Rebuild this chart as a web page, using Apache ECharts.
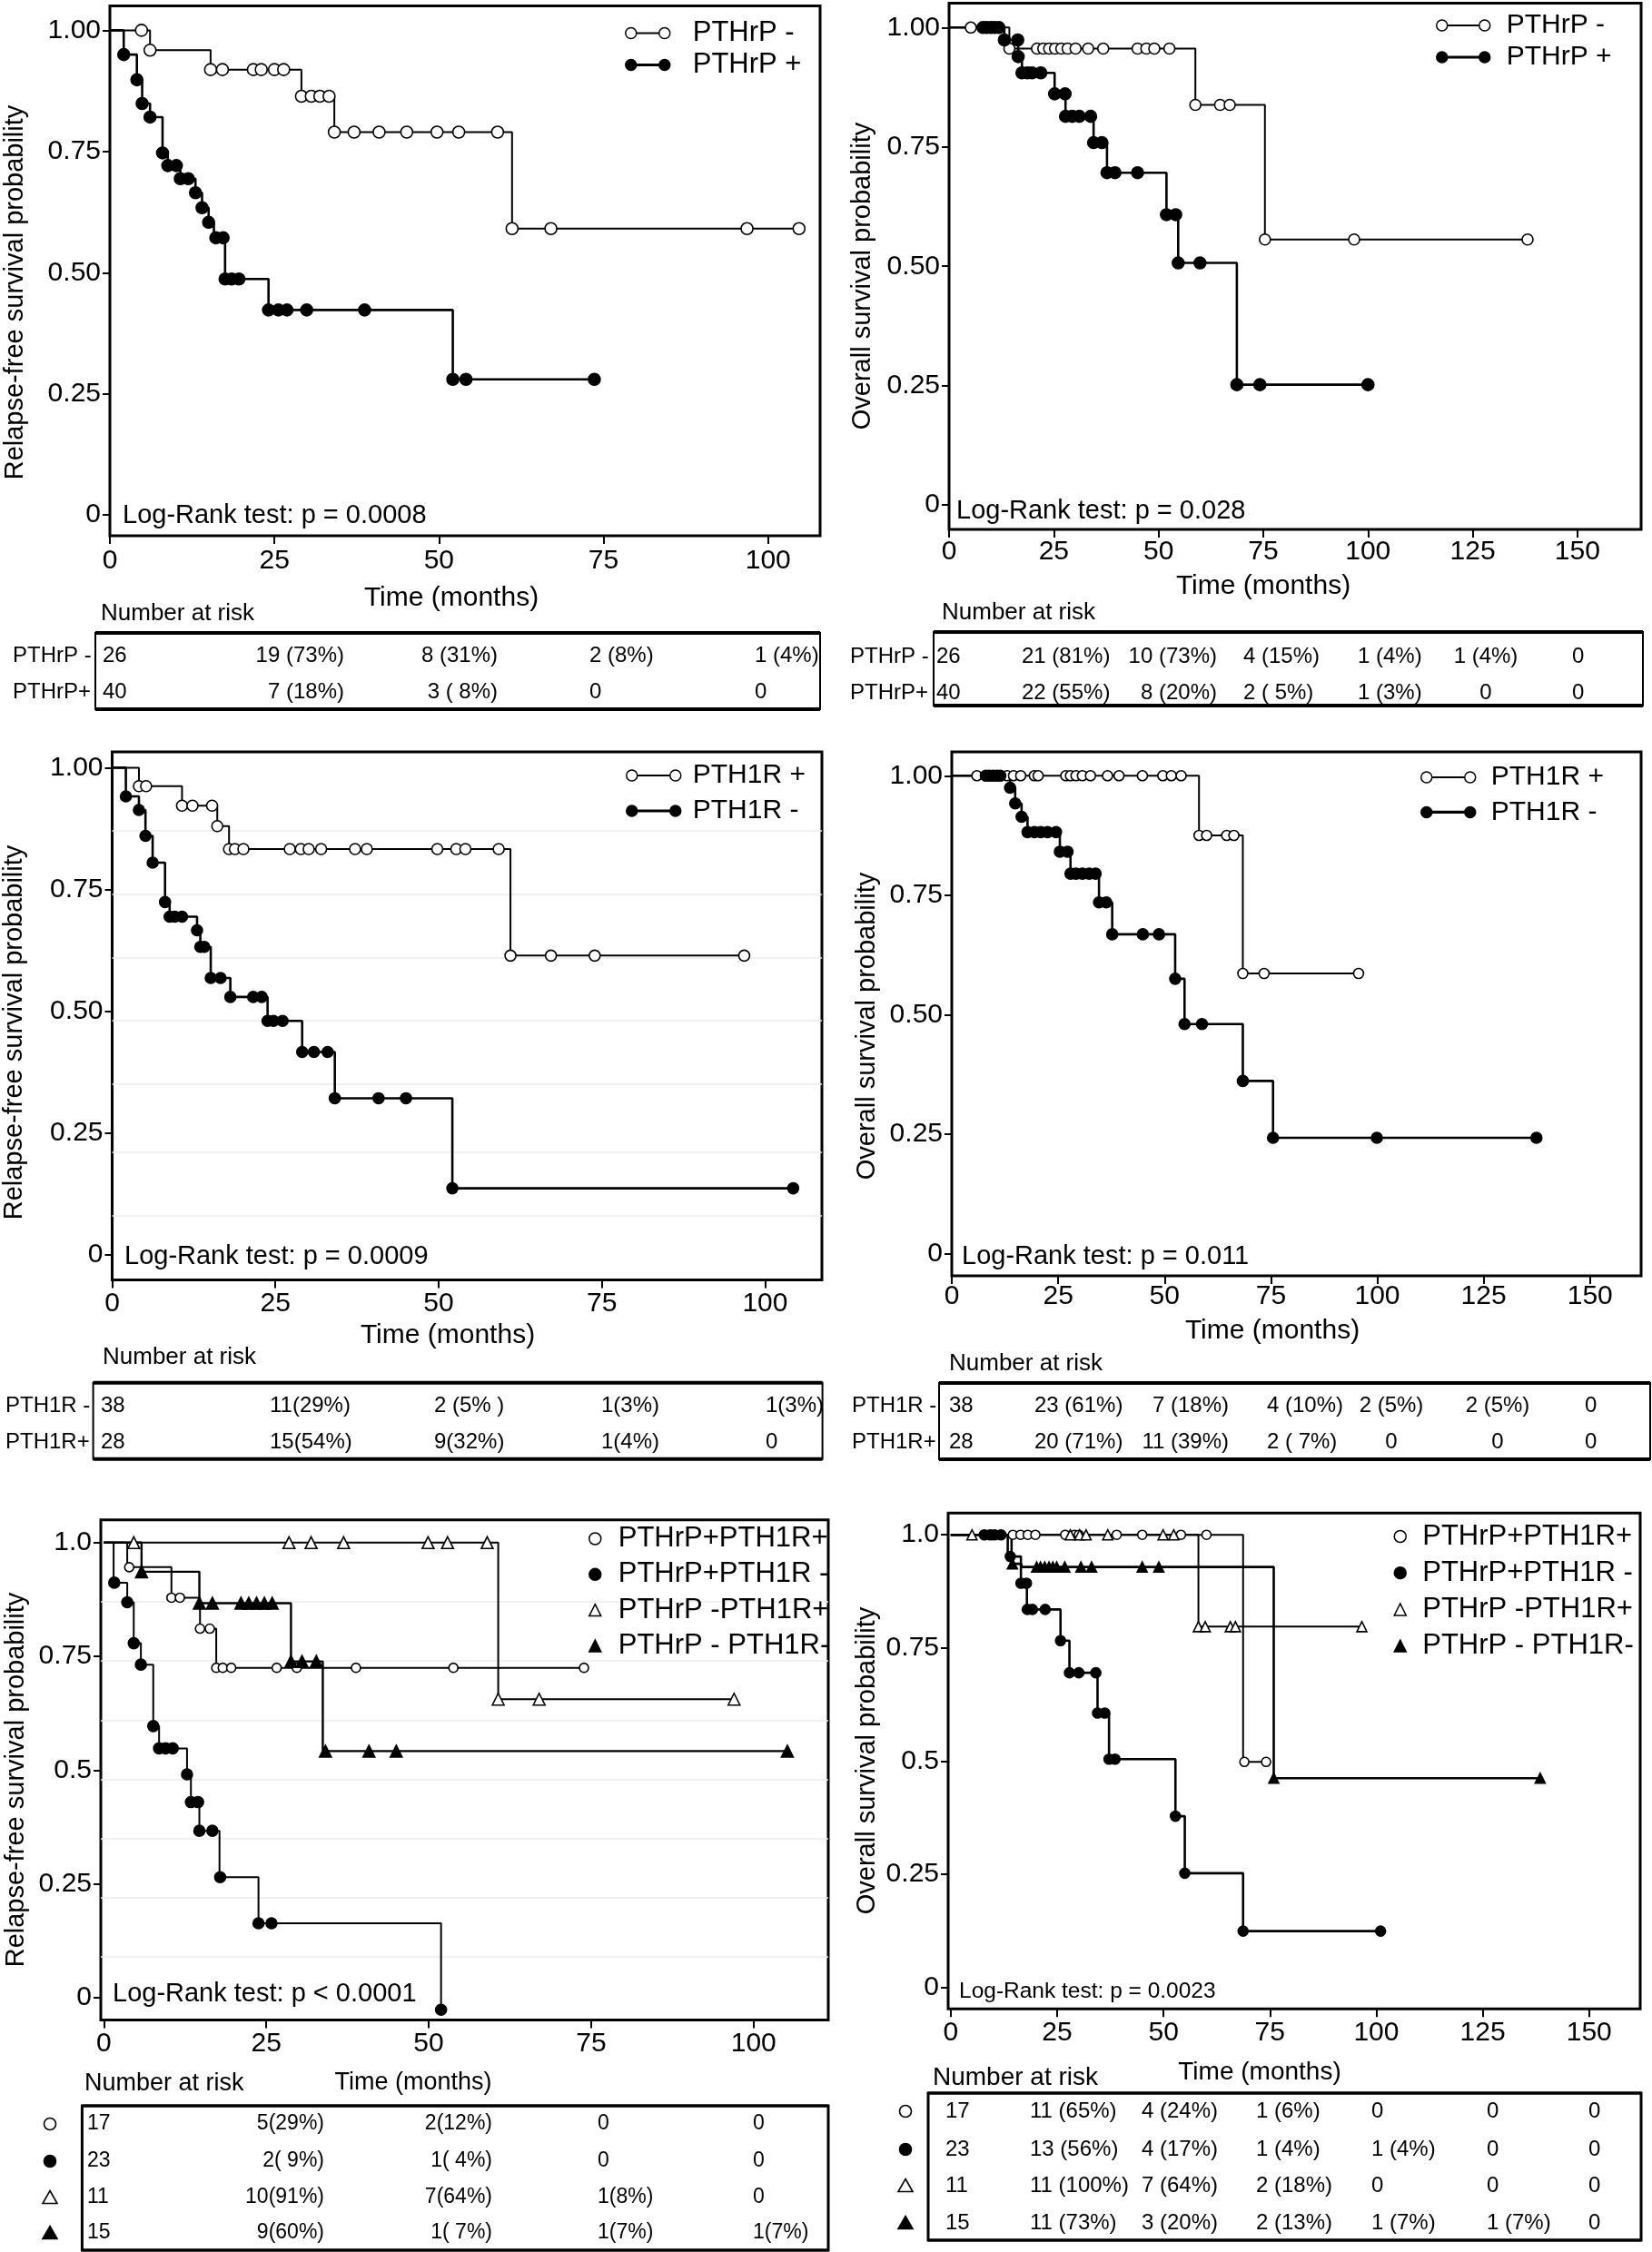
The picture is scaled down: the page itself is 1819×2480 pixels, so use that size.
<!DOCTYPE html>
<html><head><meta charset="utf-8">
<script src="https://cdn.jsdelivr.net/npm/echarts@6/dist/echarts.min.js"></script>
<style>html,body{margin:0;padding:0;background:#fff}#c{width:1819px;height:2480px}</style>
</head><body><div id="c"></div><script>
// ---------------- DATA ----------------
const xTicks100 = [0, 25, 50, 75, 100];
const xTicks150 = [0, 25, 50, 75, 100, 125, 150];
const yTicks = [0, 0.25, 0.5, 0.75, 1];
const yLabels2 = ['0', '0.25', '0.50', '0.75', '1.00'];
const yLabels1 = ['0', '0.25', '0.5', '0.75', '1.0'];

// Panel A: relapse-free, PTHrP
const A_neg_t = [0, 6.1, 15.3, 29.1, 34.1, 61.1, 104.7];
const A_neg_s = [1, 0.959, 0.919, 0.864, 0.790, 0.591, 0.591];
const A_neg_c = [4.8, 6.1, 15.3, 17.1, 21.8, 23.0, 25.0, 26.4, 29.1, 30.6, 31.9, 33.3, 34.1, 37.1, 40.9, 45.1, 49.7, 53.0, 58.9, 61.1, 67.0, 96.8, 104.7];
const A_pos_t = [0, 2.1, 4.1, 4.9, 6.1, 8.0, 8.8, 10.7, 13.0, 14.0, 15.0, 15.8, 17.5, 24.1, 52.1, 73.6];
const A_pos_s = [1, 0.950, 0.898, 0.849, 0.821, 0.747, 0.721, 0.694, 0.665, 0.634, 0.604, 0.572, 0.487, 0.423, 0.280, 0.280];
const A_pos_c = [2.1, 4.1, 4.9, 6.1, 8.0, 8.8, 10.1, 10.7, 11.9, 13.0, 14.0, 15.0, 16.1, 17.2, 17.5, 18.5, 19.6, 24.1, 25.6, 26.9, 29.9, 38.7, 52.1, 54.1, 73.6];

// Panel B: overall, PTHrP
const B_neg_t = [0, 14.4, 58.8, 75.4, 138.1];
const B_neg_s = [1, 0.956, 0.838, 0.556, 0.556];
const B_neg_c = [5.2, 14.4, 21.0, 22.5, 23.9, 25.3, 26.8, 28.3, 30.2, 33.2, 36.8, 45.0, 47.1, 49.0, 52.6, 58.8, 64.7, 67.0, 75.4, 96.7, 138.1];
const B_pos_t = [0, 13.2, 16.5, 17.4, 25.2, 27.8, 34.5, 37.7, 51.9, 54.7, 68.7, 100.0];
const B_pos_s = [1, 0.974, 0.939, 0.905, 0.861, 0.814, 0.759, 0.696, 0.608, 0.507, 0.252, 0.252];
const B_pos_c = [8.1, 9.0, 10.0, 10.9, 11.9, 13.2, 16.4, 16.5, 17.4, 18.7, 19.8, 21.9, 25.2, 27.7, 27.8, 29.4, 31.1, 33.8, 34.5, 36.5, 37.7, 39.6, 45.0, 51.9, 54.1, 54.7, 59.9, 68.7, 74.2, 100.0];

// Panel C: relapse-free, PTH1R
const C_pos_t = [0, 4.1, 10.7, 16.1, 17.9, 61.0, 96.8];
const C_pos_s = [1, 0.962, 0.922, 0.880, 0.833, 0.614, 0.614];
const C_pos_c = [4.1, 5.2, 10.7, 12.3, 15.3, 16.1, 17.9, 18.8, 20.1, 27.2, 28.9, 30.1, 32.0, 37.2, 39.0, 49.8, 52.7, 54.1, 59.2, 61.0, 67.2, 73.9, 96.8];
const C_neg_t = [0, 2.1, 4.1, 5.1, 6.2, 8.1, 8.8, 13.0, 13.5, 15.1, 18.1, 23.8, 29.1, 34.1, 52.1, 104.3];
const C_neg_s = [1, 0.941, 0.913, 0.860, 0.805, 0.724, 0.694, 0.666, 0.632, 0.568, 0.529, 0.480, 0.416, 0.321, 0.136, 0.136];
const C_neg_c = [2.1, 4.1, 5.1, 6.2, 8.1, 8.8, 9.6, 10.7, 13.0, 13.5, 14.1, 15.1, 16.6, 18.1, 21.6, 22.9, 23.8, 24.7, 26.1, 29.1, 30.9, 33.0, 34.1, 40.8, 45.0, 52.1, 104.3];
const C_grid = [0.083, 0.214, 0.346, 0.477, 0.606, 0.738, 0.868];

// Panel D: overall, PTH1R
const D_pos_t = [0, 58.1, 68.4, 95.6];
const D_pos_s = [1, 0.875, 0.586, 0.586];
const D_pos_c = [5.9, 13.0, 14.5, 16.2, 19.4, 20.3, 26.8, 27.9, 29.2, 30.7, 32.6, 36.6, 39.3, 44.8, 49.6, 51.6, 53.9, 58.1, 59.9, 64.6, 66.3, 68.4, 73.4, 95.6];
const D_neg_t = [0, 13.7, 14.9, 16.4, 17.8, 25.4, 27.9, 34.6, 37.7, 52.5, 54.7, 68.4, 75.5, 137.4];
const D_neg_s = [1, 0.975, 0.942, 0.914, 0.882, 0.841, 0.795, 0.735, 0.668, 0.575, 0.480, 0.361, 0.242, 0.242];
const D_neg_c = [8.0, 8.8, 9.7, 10.6, 11.4, 13.7, 14.9, 16.4, 17.8, 19.4, 20.9, 22.5, 24.5, 25.4, 27.2, 27.9, 29.2, 30.7, 32.3, 33.8, 34.6, 36.3, 37.7, 44.9, 48.7, 52.5, 54.7, 58.8, 68.4, 75.5, 99.9, 137.4];

// Panel E: relapse-free, combined groups
const E1_t = [0, 3.6, 10.4, 14.8, 17.3, 73.9];
const E1_s = [1, 0.946, 0.879, 0.811, 0.725, 0.725];
const E1_c = [3.9, 10.4, 11.7, 14.8, 16.3, 17.3, 18.3, 19.6, 26.6, 29.7, 38.8, 53.8, 73.9];
const E2_t = [0, 1.5, 3.6, 4.6, 5.7, 7.6, 8.5, 12.8, 13.4, 14.7, 17.8, 23.8, 51.9];
const E2_s = [1, 0.912, 0.869, 0.779, 0.732, 0.597, 0.548, 0.491, 0.430, 0.367, 0.265, 0.164, -0.026];
const E2_c = [1.6, 3.6, 4.6, 5.7, 7.6, 8.5, 9.5, 10.6, 12.8, 13.4, 14.5, 14.7, 16.7, 17.9, 23.8, 25.8, 51.9];
const E3_t = [0, 60.7, 97.0];
const E3_s = [1, 0.656, 0.656];
const E3_c = [4.6, 28.5, 31.9, 36.9, 49.9, 52.9, 59.0, 60.7, 67.0, 97.0];
const E4_t = [0, 5.8, 14.7, 28.8, 33.7, 105.2];
const E4_s = [1, 0.936, 0.867, 0.739, 0.542, 0.542];
const E4_c = [5.8, 14.7, 16.7, 21.1, 22.3, 23.5, 24.7, 25.9, 28.8, 30.5, 32.7, 34.1, 40.8, 45.0, 105.2];
const E_grid = [0.090, 0.220, 0.349, 0.479, 0.609, 0.739, 0.873];

// Panel F: overall, combined groups
const F1_t = [0, 68.7, 74.1];
const F1_s = [1, 0.498, 0.498];
const F1_c = [14.6, 16.4, 18.1, 19.9, 26.9, 29.1, 30.1, 39.0, 45.0, 54.1, 60.1, 69.0, 74.1];
const F2_t = [0, 13.4, 16.5, 17.9, 25.8, 27.9, 34.5, 37.2, 52.8, 55.0, 68.7, 101.0];
const F2_s = [1, 0.952, 0.893, 0.835, 0.766, 0.695, 0.606, 0.504, 0.378, 0.252, 0.124, 0.124];
const F2_c = [7.9, 9.3, 10.3, 11.8, 14.0, 16.5, 17.8, 18.0, 19.2, 22.2, 25.8, 27.9, 30.1, 34.1, 34.5, 36.2, 37.2, 38.6, 52.8, 55.0, 68.7, 101.0];
const F3_t = [0, 58.2, 96.6];
const F3_s = [1, 0.797, 0.797];
const F3_c = [5.0, 28.1, 30.3, 31.8, 36.9, 49.9, 52.4, 58.2, 59.8, 65.7, 66.9, 96.6];
const F4_t = [0, 14.3, 16.6, 75.9, 138.5];
const F4_s = [1, 0.936, 0.929, 0.462, 0.462];
const F4_c = [14.5, 20.2, 21.1, 22.1, 23.1, 24.0, 24.9, 26.8, 30.6, 33.1, 45.0, 48.9, 75.9, 138.5];

// Number-at-risk tables
const riskRowsPTHrP = ['PTHrP -', 'PTHrP+'];
const riskRowsPTH1R = ['PTH1R -', 'PTH1R+'];
const riskA = [['26', '19 (73%)', '8 (31%)', '2 (8%)', '1 (4%)'], ['40', '7 (18%)', '3 ( 8%)', '0', '0']];
const riskB = [['26', '21 (81%)', '10 (73%)', '4 (15%)', '1 (4%)', '1 (4%)', '0'], ['40', '22 (55%)', '8 (20%)', '2 ( 5%)', '1 (3%)', '0', '0']];
const riskC = [['38', '11(29%)', '2 (5% )', '1(3%)', '1(3%)'], ['28', '15(54%)', '9(32%)', '1(4%)', '0']];
const riskD = [['38', '23 (61%)', '7 (18%)', '4 (10%)', '2 (5%)', '2 (5%)', '0'], ['28', '20 (71%)', '11 (39%)', '2 ( 7%)', '0', '0', '0']];
const riskE = [['17', '5(29%)', '2(12%)', '0', '0'], ['23', '2( 9%)', '1( 4%)', '0', '0'], ['11', '10(91%)', '7(64%)', '1(8%)', '0'], ['15', '9(60%)', '1( 7%)', '1(7%)', '1(7%)']];
const riskF = [['17', '11 (65%)', '4 (24%)', '1 (6%)', '0', '0', '0'], ['23', '13 (56%)', '4 (17%)', '1 (4%)', '1 (4%)', '0', '0'], ['11', '11 (100%)', '7 (64%)', '2 (18%)', '0', '0', '0'], ['15', '11 (73%)', '3 (20%)', '2 (13%)', '1 (7%)', '1 (7%)', '0']];

const txtRFS = 'Relapse-free survival probability';
const txtOS = 'Overall survival probability';
const txtTime = 'Time (months)';
const txtNAR = 'Number at risk';
const logRank = ['Log-Rank test: p = 0.0008', 'Log-Rank test: p = 0.028', 'Log-Rank test: p = 0.0009', 'Log-Rank test: p = 0.011', 'Log-Rank test: p < 0.0001', 'Log-Rank test: p = 0.0023'];

// ---------------- BUILD ----------------
const FF = '"Liberation Sans", Arial, Helvetica, sans-serif';
const option = { backgroundColor: '#fff', animation: false, grid: [], xAxis: [], yAxis: [], series: [], legend: [], graphic: { elements: [] } };
const G = option.graphic.elements;

function survAt(ts, ss, x) { let v = ss[0]; for (let k = 0; k < ts.length; k++) { if (ts[k] <= x + 1e-9) v = ss[k]; } return v; }

function txt(x, y, text, size, align, rot, va) {
  align = align || 'left'; va = va || 'middle';
  return { type: 'text', x: x, y: y, rotation: rot || 0, silent: true, z: 10,
    style: { text: text, font: size + 'px ' + FF, fill: '#000', textAlign: align, textVerticalAlign: va, align: align, verticalAlign: va } };
}

function lineIcon(w, h, lw) {
  const r = h / 2;
  return 'path://M0,' + r + 'A' + r + ',' + r + ' 0 1,1 ' + (2 * r) + ',' + r + 'A' + r + ',' + r + ' 0 1,1 0,' + r + 'Z' +
    'M' + (2 * r) + ',' + (r - lw / 2) + 'L' + (w - 2 * r) + ',' + (r - lw / 2) + 'L' + (w - 2 * r) + ',' + (r + lw / 2) + 'L' + (2 * r) + ',' + (r + lw / 2) + 'Z' +
    'M' + (w - 2 * r) + ',' + r + 'A' + r + ',' + r + ' 0 1,1 ' + w + ',' + r + 'A' + r + ',' + r + ' 0 1,1 ' + (w - 2 * r) + ',' + r + 'Z';
}

function addPanel(i, lay, curves) {
  option.grid.push({ left: lay.g[0], top: lay.g[1], width: lay.g[2], height: lay.g[3], show: true, borderColor: '#000', borderWidth: 3, backgroundColor: 'rgba(0,0,0,0)' });
  option.xAxis.push({ type: 'value', gridIndex: i, min: lay.xr[0], max: lay.xr[1],
    axisLine: { show: false, onZero: false },
    axisTick: { show: true, customValues: lay.xt, length: 9, lineStyle: { color: '#000', width: 2 } },
    axisLabel: { customValues: lay.xt, margin: lay.xm, fontSize: 30, color: '#000', fontFamily: FF },
    splitLine: { show: false } });
  option.yAxis.push({ type: 'value', gridIndex: i, min: lay.yr[0], max: lay.yr[1],
    axisLine: { show: false, onZero: false },
    axisTick: { show: true, customValues: yTicks, length: 8, lineStyle: { color: '#000', width: 2 } },
    axisLabel: { customValues: yTicks, margin: 10, fontSize: 30, color: '#000', fontFamily: FF,
      formatter: function (v) { const k = yTicks.findIndex(function (t) { return Math.abs(t - v) < 1e-6; }); return k >= 0 ? lay.yl[k] : ''; } },
    splitLine: { show: false } });
  curves.forEach(function (c, j) {
    const line = { type: 'line', name: c.name, xAxisIndex: i, yAxisIndex: i, step: 'end', symbol: 'none', silent: true, z: 2,
      data: c.t.map(function (x, k) { return [x, c.s[k]]; }), lineStyle: { color: '#000', width: c.lw } };
    if (j === 0 && lay.faint) {
      line.markLine = { silent: true, symbol: ['none', 'none'], label: { show: false }, z: 1,
        lineStyle: { color: '#ececec', width: 1.5, type: 'solid' }, data: lay.faint.map(function (v) { return { yAxis: v }; }) };
    }
    option.series.push(line);
    option.series.push({ type: 'scatter', name: c.name, xAxisIndex: i, yAxisIndex: i, symbol: c.sym, symbolSize: c.size, silent: true, z: 3,
      itemStyle: { color: c.fill ? '#000' : '#fff', borderColor: '#000', borderWidth: 1.6, opacity: 1 },
      data: c.c.map(function (x) { return [x, survAt(c.t, c.s, x)]; }) });
  });
  G.push(txt(lay.yn[0], lay.yn[1], lay.ynT, 29, 'center', Math.PI / 2));
  G.push(txt(lay.xn[0], lay.xn[1], txtTime, lay.xn[2], 'center'));
  G.push(txt(lay.lr[0], lay.lr[1], logRank[i], lay.lr[2], 'left'));
  G.push(txt(lay.nar[0], lay.nar[1], txtNAR, lay.nar[2], 'left'));
}

function addLegend(lg, items) {
  option.legend.push({ show: true, orient: 'vertical', left: lg.left, top: lg.top, padding: 0, itemGap: lg.gap,
    itemWidth: lg.w, itemHeight: lg.h, selectedMode: false,
    textStyle: { fontSize: lg.fs, lineHeight: lg.fs, color: '#000', fontFamily: FF, padding: [0, 0, 0, lg.pad] },
    data: items.map(function (it) { return { name: it.name, icon: it.icon, itemStyle: { color: it.fill ? '#000' : '#fff', borderColor: '#000', borderWidth: 1.5 } }; }) });
}

function addTable(tb, rowLabels, cells) {
  const b = tb.box;
  G.push({ type: 'rect', silent: true, shape: { x: b[0], y: b[1], width: b[2] - b[0], height: b[3] - b[1] }, style: { fill: 'none', stroke: '#000', lineWidth: tb.side } });
  G.push({ type: 'line', silent: true, shape: { x1: b[0], y1: b[1], x2: b[2], y2: b[1] }, style: { stroke: '#000', lineWidth: tb.tb } });
  G.push({ type: 'line', silent: true, shape: { x1: b[0], y1: b[3], x2: b[2], y2: b[3] }, style: { stroke: '#000', lineWidth: tb.tb } });
  cells.forEach(function (row, r) {
    const y = tb.rows[r];
    if (rowLabels) G.push(txt(tb.lx, y, rowLabels[r], tb.fs, 'left'));
    if (tb.syms) {
      const s = tb.syms[r], sx = tb.lx;
      if (s === 'oc' || s === 'fc') G.push({ type: 'circle', silent: true, shape: { cx: sx, cy: y, r: 6.5 }, style: { fill: s === 'fc' ? '#000' : '#fff', stroke: '#000', lineWidth: 1.6 } });
      else G.push({ type: 'polygon', silent: true, shape: { points: [[sx, y - 7.5], [sx + 8, y + 6.5], [sx - 8, y + 6.5]] }, style: { fill: s === 'ft' ? '#000' : '#fff', stroke: '#000', lineWidth: 1.6 } });
    }
    row.forEach(function (v, k) { G.push(txt(tb.cx[k], y, v, tb.fs, tb.al[k])); });
  });
}

// ---------------- LAYOUT ----------------
const ico = function (w, fill) { return lineIcon(w, 12, fill ? 1.6 : 0.6); };

// A
addPanel(0, { g: [121, 6.5, 782, 583.5], xr: [0, 107.9], yr: [-0.0427, 1.0504], xt: xTicks100, yl: yLabels2, xm: 13,
  yn: [17, 322], ynT: txtRFS, xn: [497, 659, 30], lr: [135, 568, 29], nar: [111, 676, 26] },
  [{ name: 'PTHrP -', t: A_neg_t, s: A_neg_s, c: A_neg_c, fill: false, sym: 'circle', size: 13, lw: 2 },
   { name: 'PTHrP +', t: A_pos_t, s: A_pos_s, c: A_pos_c, fill: true, sym: 'circle', size: 13, lw: 2.6 }]);
addLegend({ left: 688, top: 21, gap: 4, w: 49, h: 12, fs: 31, pad: 20 },
  [{ name: 'PTHrP -', icon: ico(49, false), fill: false }, { name: 'PTHrP +', icon: ico(49, true), fill: true }]);
addTable({ box: [105, 697, 903, 781], rows: [722.7, 762.7], lx: 14, fs: 24, side: 2, tb: 4,
  cx: [113, 379, 548, 649, 831], al: ['left', 'right', 'right', 'left', 'left'] }, riskRowsPTHrP, riskA);

// B
addPanel(1, { g: [1045, 3.5, 762, 579.5], xr: [0, 165.2], yr: [-0.051, 1.051], xt: xTicks150, yl: yLabels2, xm: 10,
  yn: [950, 304], ynT: txtOS, xn: [1391, 646, 30], lr: [1053, 563, 29], nar: [1037, 675, 26] },
  [{ name: 'PTHrP -', t: B_neg_t, s: B_neg_s, c: B_neg_c, fill: false, sym: 'circle', size: 12, lw: 2 },
   { name: 'PTHrP +', t: B_pos_t, s: B_pos_s, c: B_pos_c, fill: true, sym: 'circle', size: 13, lw: 2.6 }]);
addLegend({ left: 1581, top: 13, gap: 5, w: 59, h: 12, fs: 30, pad: 13 },
  [{ name: 'PTHrP -', icon: ico(59, false), fill: false }, { name: 'PTHrP +', icon: ico(59, true), fill: true }]);
addTable({ box: [1028, 696, 1809, 777], rows: [723, 763], lx: 936, fs: 24, side: 2, tb: 4,
  cx: [1031, 1125, 1340, 1369, 1495, 1636, 1731], al: ['left', 'left', 'right', 'left', 'left', 'center', 'left'] }, riskRowsPTHrP, riskB);

// C
addPanel(2, { g: [123.5, 828, 781.5, 581.6], xr: [0, 108.7], yr: [-0.0524, 1.0325], xt: xTicks100, yl: yLabels2, xm: 11, faint: C_grid,
  yn: [16, 1137], ynT: txtRFS, xn: [493, 1471, 30], lr: [137, 1384, 29], nar: [113, 1495, 26] },
  [{ name: 'PTH1R +', t: C_pos_t, s: C_pos_s, c: C_pos_c, fill: false, sym: 'circle', size: 12, lw: 2 },
   { name: 'PTH1R -', t: C_neg_t, s: C_neg_s, c: C_neg_c, fill: true, sym: 'circle', size: 12, lw: 2.6 }]);
addLegend({ left: 689, top: 839, gap: 9, w: 60, h: 12, fs: 30, pad: 8 },
  [{ name: 'PTH1R +', icon: ico(60, false), fill: false }, { name: 'PTH1R -', icon: ico(60, true), fill: true }]);
addTable({ box: [102.6, 1522.7, 905.6, 1606.7], rows: [1548, 1588], lx: 6, fs: 24, side: 2, tb: 4,
  cx: [111, 297, 478, 662, 843], al: ['left', 'left', 'left', 'left', 'left'] }, riskRowsPTH1R, riskC);

// D
addPanel(3, { g: [1048, 828, 759, 577], xr: [0, 162], yr: [-0.047, 1.05], xt: xTicks150, yl: yLabels2, xm: 8,
  yn: [955, 1130], ynT: txtOS, xn: [1401, 1466, 30], lr: [1059, 1384, 29], nar: [1045, 1502, 26] },
  [{ name: 'PTH1R +', t: D_pos_t, s: D_pos_s, c: D_pos_c, fill: false, sym: 'circle', size: 11, lw: 2 },
   { name: 'PTH1R -', t: D_neg_t, s: D_neg_s, c: D_neg_c, fill: true, sym: 'circle', size: 12, lw: 2.6 }]);
addLegend({ left: 1564, top: 841, gap: 8.4, w: 60, h: 12, fs: 30, pad: 12 },
  [{ name: 'PTH1R +', icon: ico(60, false), fill: false }, { name: 'PTH1R -', icon: ico(60, true), fill: true }]);
addTable({ box: [1034, 1523, 1817, 1607], rows: [1548, 1588], lx: 938, fs: 24, side: 2, tb: 4,
  cx: [1045, 1139, 1353, 1395, 1532, 1649, 1745], al: ['left', 'left', 'right', 'left', 'center', 'center', 'left'] }, riskRowsPTH1R, riskD);

// E
addPanel(4, { g: [111, 1673.7, 801, 550.8], xr: [-0.47, 111.5], yr: [-0.0485, 1.05], xt: xTicks100, yl: yLabels1, xm: 11, faint: E_grid,
  yn: [18, 1960], ynT: txtRFS, xn: [455, 2294, 27], lr: [124, 2196, 29], nar: [93, 2295, 27] },
  [{ name: 'PTHrP+PTH1R+', t: E1_t, s: E1_s, c: E1_c, fill: false, sym: 'circle', size: 10, lw: 2 },
   { name: 'PTHrP+PTH1R -', t: E2_t, s: E2_s, c: E2_c, fill: true, sym: 'circle', size: 12, lw: 2 },
   { name: 'PTHrP -PTH1R+', t: E3_t, s: E3_s, c: E3_c, fill: false, sym: 'triangle', size: 13, lw: 2 },
   { name: 'PTHrP - PTH1R-', t: E4_t, s: E4_s, c: E4_c, fill: true, sym: 'triangle', size: 13, lw: 2.4 }]);
addLegend({ left: 648, top: 1679, gap: 8.3, w: 13, h: 13, fs: 31, pad: 14 },
  [{ name: 'PTHrP+PTH1R+', icon: 'circle', fill: false }, { name: 'PTHrP+PTH1R -', icon: 'circle', fill: true },
   { name: 'PTHrP -PTH1R+', icon: 'triangle', fill: false }, { name: 'PTHrP - PTH1R-', icon: 'triangle', fill: true }]);
addTable({ box: [90.4, 2319, 912, 2478], rows: [2339, 2380, 2420, 2459], lx: 55, syms: ['oc', 'fc', 'ot', 'ft'], fs: 23, side: 3, tb: 3,
  cx: [96, 357, 542, 658, 829], al: ['left', 'right', 'right', 'left', 'left'] }, null, riskE);

// F
addPanel(5, { g: [1044, 1666.3, 762, 546], xr: [-0.6, 162], yr: [-0.048, 1.048], xt: xTicks150, yl: yLabels1, xm: 11,
  yn: [955, 1939], ynT: txtOS, xn: [1387, 2282, 28], lr: [1056, 2193, 24.5], nar: [1027, 2288, 28] },
  [{ name: 'PTHrP+PTH1R+', t: F1_t, s: F1_s, c: F1_c, fill: false, sym: 'circle', size: 10, lw: 2 },
   { name: 'PTHrP+PTH1R -', t: F2_t, s: F2_s, c: F2_c, fill: true, sym: 'circle', size: 11, lw: 2.6 },
   { name: 'PTHrP -PTH1R+', t: F3_t, s: F3_s, c: F3_c, fill: false, sym: 'triangle', size: 11, lw: 2 },
   { name: 'PTHrP - PTH1R-', t: F4_t, s: F4_s, c: F4_c, fill: true, sym: 'triangle', size: 11, lw: 2.6 }]);
addLegend({ left: 1534.5, top: 1676.5, gap: 9.2, w: 13, h: 13, fs: 31, pad: 13 },
  [{ name: 'PTHrP+PTH1R+', icon: 'circle', fill: false }, { name: 'PTHrP+PTH1R -', icon: 'circle', fill: true },
   { name: 'PTHrP -PTH1R+', icon: 'triangle', fill: false }, { name: 'PTHrP - PTH1R-', icon: 'triangle', fill: true }]);
addTable({ box: [1022, 2305, 1807, 2467], rows: [2325, 2367, 2407, 2448], lx: 997, syms: ['oc', 'fc', 'ot', 'ft'], fs: 24, side: 3, tb: 3,
  cx: [1041, 1134, 1341, 1383, 1510, 1637, 1749], al: ['left', 'left', 'right', 'left', 'left', 'left', 'left'] }, null, riskF);

const chart = echarts.init(document.getElementById('c'), null, { renderer: 'canvas', width: 1819, height: 2480 });
chart.setOption(option);
</script></body></html>
